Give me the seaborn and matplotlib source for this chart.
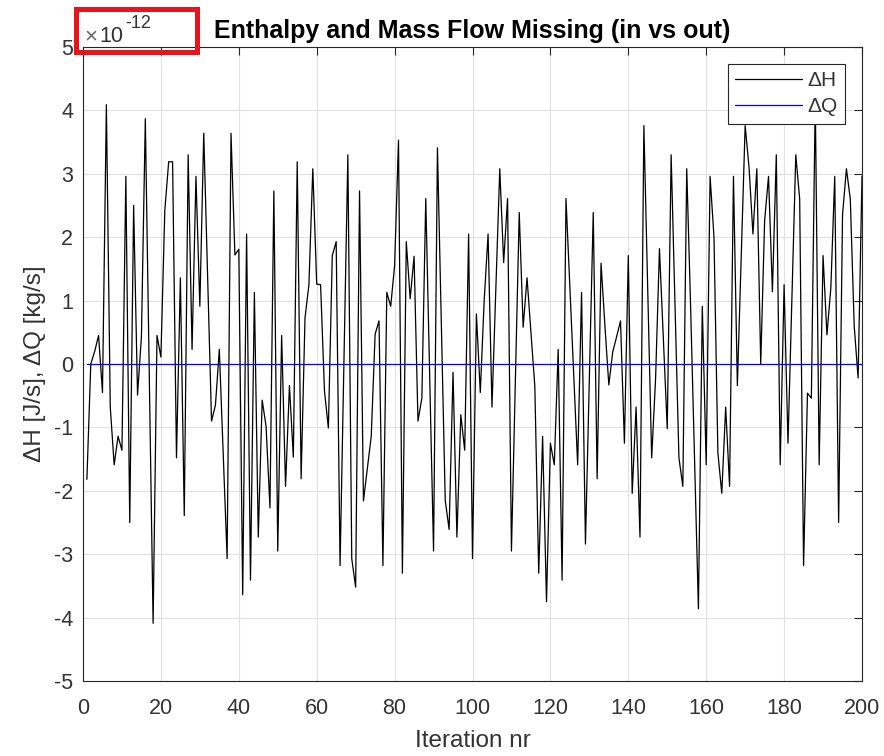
import numpy as np
import pandas as pd
import matplotlib
matplotlib.use("Agg")
import matplotlib.pyplot as plt
import seaborn as sns
from matplotlib.ticker import FuncFormatter
from matplotlib.patches import Rectangle

# ---------------- data (values in units of 1e-12) ----------------
iterations = list(range(1, 201))
dH_e12 = [
    -1.82, 0.00, 0.20, 0.45, -0.45, 4.09, -0.68, -1.59, -1.14, -1.36,
    2.96, -2.50, 2.50, -0.49, 0.43, 3.87, -0.10, -4.09, 0.45, 0.11,
    2.42, 3.19, 3.19, -1.48, 1.36, -2.39, 3.30, 0.23, 2.96, 0.91,
    3.64, 1.37, -0.90, -0.65, 0.23, -1.42, -3.07, 3.64, 1.72, 1.81,
    -3.64, 2.05, -3.41, 1.13, -2.73, -0.57, -0.98, -2.27, 2.73, -2.95,
    0.45, -1.93, -0.34, -1.47, 3.19, -1.81, 0.73, 1.25, 3.08, 1.26,
    1.25, -0.43, -1.01, 1.71, 1.93, -3.18, 0.06, 3.30, -3.07, -3.52,
    2.73, -2.16, -1.65, -1.14, 0.47, 0.68, -3.18, 1.13, 0.91, 1.55,
    3.53, -3.30, 1.93, 1.03, 1.70, -0.90, -0.54, 2.61, -0.20, -2.95,
    3.41, 0.60, -2.15, -2.61, -0.13, -2.73, -0.80, -1.36, 2.05, -3.07,
    0.79, -0.45, 1.00, 2.05, -0.68, 1.20, 3.08, 1.60, 2.61, -2.95,
    -0.28, 2.39, 0.58, 1.36, 0.50, -0.35, -3.30, -1.14, -3.75, -1.25,
    -1.59, 0.23, -3.41, 2.61, 1.20, -0.20, -1.59, 1.13, -2.84, -0.22,
    2.39, -1.81, 1.59, 0.60, -0.33, 0.19, 0.43, 0.68, -1.25, 1.71,
    -2.04, -0.68, -2.73, 3.76, 1.14, -1.48, -0.24, 1.82, 0.40, -1.02,
    3.30, 0.90, -1.48, -1.93, 3.08, 0.90, -1.48, -3.86, 0.91, -1.59,
    2.96, 2.00, -1.40, -2.04, -0.68, -1.93, 2.96, -0.34, 1.70, 3.76,
    3.10, 2.05, 3.08, 0.00, 2.26, 2.96, 1.14, 3.30, -1.59, 1.25,
    -1.25, 1.00, 3.30, 2.60, -3.18, -0.46, -0.54, 4.20, -1.59, 1.71,
    0.46, 1.20, 2.96, -2.50, 2.35, 3.08, 2.60, 0.60, -0.22, 2.96,
]
dQ = [0.0] * 200
scale = 1e-12

series_names = ["\u0394H", "\u0394Q"]
title_text = "Enthalpy and Mass Flow Missing (in vs out)"
xlabel_text = "Iteration nr"
ylabel_text = "\u0394H [J/s], \u0394Q [kg/s]"
exp_times = "\u00d7"
exp_base = "10"
exp_power = "-12"
x_ticks = list(range(0, 201, 20))
y_ticks_units = list(range(-5, 6))

df = pd.DataFrame({
    "Iteration": iterations + iterations,
    "value": [v * scale for v in dH_e12] + dQ,
    "series": [series_names[0]] * len(iterations) + [series_names[1]] * len(iterations),
})

# ---------------- style ----------------
sns.set_style("white")
plt.rcParams["font.family"] = ["Liberation Sans", "DejaVu Sans"]
plt.rcParams["axes.unicode_minus"] = False

axis_col = "#262626"
text_col = "#333333"

fig = plt.figure(figsize=(8.84, 7.56), dpi=100)
fig.patch.set_facecolor("white")
ax = fig.add_axes([83 / 884, 1 - 681 / 756, (862 - 83) / 884, (681 - 47) / 756])

sns.lineplot(
    data=df, x="Iteration", y="value", hue="series",
    palette={series_names[0]: "black", series_names[1]: "#0000ff"},
    linewidth=0.9, estimator=None, sort=False, ax=ax, legend=True,
)

ax.set_xlim(0, 200)
ax.set_ylim(-5 * scale, 5 * scale)
ax.set_xticks(x_ticks)
ax.set_yticks([t * scale for t in y_ticks_units])
ax.yaxis.set_major_formatter(FuncFormatter(lambda v, p: f"{round(v / scale):d}"))

ax.grid(True, color="#e0e0e0", linewidth=0.8)
for s in ax.spines.values():
    s.set_visible(True)
    s.set_color(axis_col)
    s.set_linewidth(0.8)
ax.tick_params(axis="both", direction="in", length=5.5, width=0.8, colors=axis_col,
               labelsize=15.5, top=True, right=True, labelcolor=text_col)
ax.tick_params(axis="x", pad=12)
ax.tick_params(axis="y", pad=7)

ax.set_title(title_text, fontsize=18, fontweight="bold", color="black", pad=6.5)
ax.set_xlabel(xlabel_text, fontsize=17.5, color=text_col, labelpad=8)
ax.set_ylabel(ylabel_text, fontsize=17.5, color=text_col, labelpad=6)

# exponent label (MATLAB style)
fig.text(84 / 884, 1 - 42 / 756, exp_times, fontsize=16, color="#666666", va="baseline", ha="left")
fig.text(99 / 884, 1 - 42 / 756, exp_base, fontsize=15.5, color=text_col, va="baseline", ha="left")
fig.text(125 / 884, 1 - 28 / 756, exp_power, fontsize=13, color=text_col, va="baseline", ha="left")

handles, labels = ax.get_legend_handles_labels()
leg = ax.legend(handles, labels, loc="upper right", fontsize=15, fancybox=False,
                framealpha=1, edgecolor=axis_col, handlelength=3.2,
                borderaxespad=0.8, borderpad=0.35, labelspacing=0.35, handletextpad=0.3)
leg.get_frame().set_linewidth(0.8)
for t in leg.get_texts():
    t.set_color(text_col)
leg.set_zorder(10)

# red highlight box around the exponent label
fig.patches.append(Rectangle((76 / 884, 1 - 52 / 756), (197 - 76) / 884, (52 - 9) / 756,
                             transform=fig.transFigure, fill=False,
                             edgecolor="#e8141b", linewidth=3.6, zorder=20))

fig.savefig("out.png", dpi=100)
